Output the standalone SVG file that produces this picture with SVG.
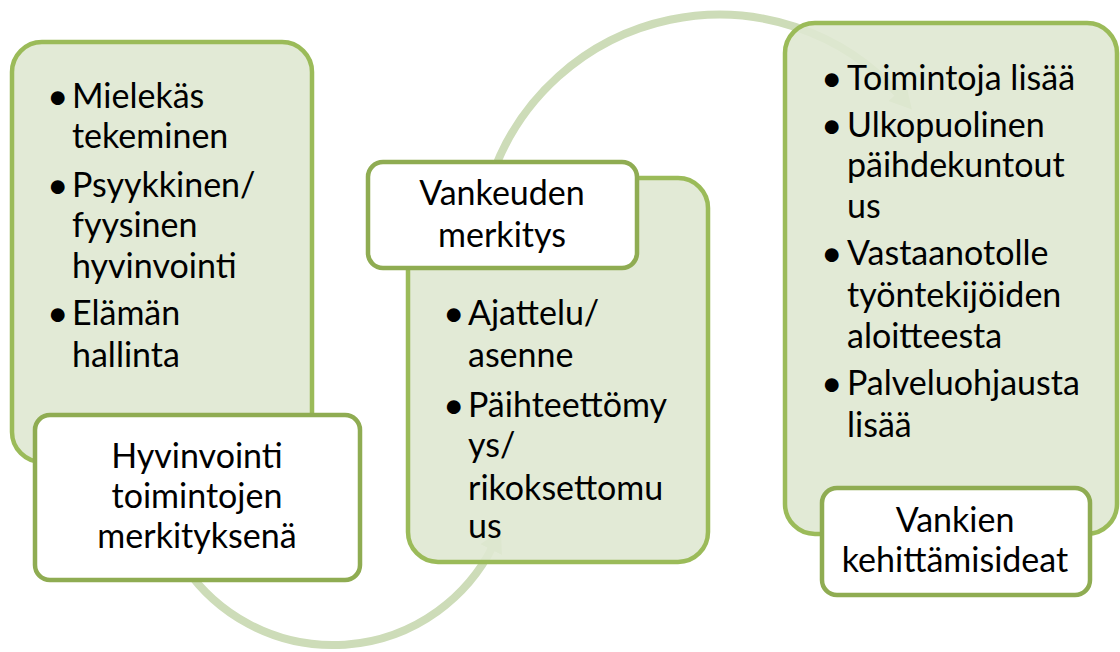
<svg xmlns="http://www.w3.org/2000/svg" width="1120" height="652" viewBox="0 0 1120 652">
  <defs>
    <marker id="arrow" markerUnits="userSpaceOnUse" markerWidth="30" markerHeight="30" refX="4" refY="12" orient="auto">
      <path d="M0,0 L22,12 L0,24 Z" fill="#cddcb8"/>
    </marker>
    <style>
      .arc { fill: none; stroke: #cddcb8; stroke-width: 8; }
      .box { fill: #dfe8d2; fill-opacity: 0.9; stroke: #9bbb59; stroke-width: 4.5; }
      .lbl { fill: #ffffff; stroke: #8fac52; stroke-width: 4.5; }
      text { font-family: Lato, "Open Sans", sans-serif; font-size: 34px; fill: #000000; }
      .b { font-size: 37px; }
      .c { text-anchor: middle; }
    </style>
  </defs>
  <rect width="1120" height="652" fill="#ffffff"/>

  <g id="connectors">
    <path class="arc" d="M490,182 A241,241 0 0 1 900,96" marker-end="url(#arrow)"/>
    <path class="arc" d="M185,567 A179,179 0 0 0 493,546" marker-end="url(#arrow)"/>
  </g>

  <g id="box1">
    <rect class="box" x="12" y="42" width="300" height="420" rx="30"/>
    <text class="b" x="47" y="109">•</text><text x="72" y="108">Mielekäs</text>
    <text x="72" y="148">tekeminen</text>
    <text class="b" x="47" y="198">•</text><text x="72" y="197">Psyykkinen/</text>
    <text x="72" y="237">fyysinen</text>
    <text x="72" y="278">hyvinvointi</text>
    <text class="b" x="47" y="326">•</text><text x="72" y="325">Elämän</text>
    <text x="72" y="367">hallinta</text>
  </g>

  <g id="box2">
    <rect class="box" x="408" y="178" width="300" height="384" rx="30"/>
    <text class="b" x="443" y="326">•</text><text x="468" y="325">Ajattelu/</text>
    <text x="468" y="367">asenne</text>
    <text class="b" x="443" y="418">•</text><text x="468" y="417">Päihteettömy</text>
    <text x="468" y="457">ys/</text>
    <text x="468" y="500">rikoksettomu</text>
    <text x="468" y="538">us</text>
  </g>

  <g id="box3">
    <rect class="box" x="785" y="23" width="332" height="511" rx="30"/>
    <text class="b" x="821" y="91">•</text><text x="847" y="90">Toimintoja lisää</text>
    <text class="b" x="821" y="138">•</text><text x="847" y="137">Ulkopuolinen</text>
    <text x="847" y="177">päihdekuntout</text>
    <text x="847" y="218">us</text>
    <text class="b" x="821" y="266">•</text><text x="847" y="265">Vastaanotolle</text>
    <text x="847" y="307">työntekijöiden</text>
    <text x="847" y="348">aloitteesta</text>
    <text class="b" x="821" y="396">•</text><text x="847" y="395">Palveluohjausta</text>
    <text x="847" y="437">lisää</text>
  </g>

  <g id="label1">
    <rect class="lbl" x="35" y="415" width="325" height="165" rx="15"/>
    <text class="c" x="197" y="468">Hyvinvointi</text>
    <text class="c" x="197" y="508">toimintojen</text>
    <text class="c" x="197" y="548">merkityksenä</text>
  </g>

  <g id="label2">
    <rect class="lbl" x="368" y="162" width="269" height="106" rx="15"/>
    <text class="c" x="502" y="205">Vankeuden</text>
    <text class="c" x="502" y="247">merkitys</text>
  </g>

  <g id="label3">
    <rect class="lbl" x="822" y="488" width="268" height="107" rx="15"/>
    <text class="c" x="955" y="532">Vankien</text>
    <text class="c" x="955" y="572">kehittämisideat</text>
  </g>
</svg>
